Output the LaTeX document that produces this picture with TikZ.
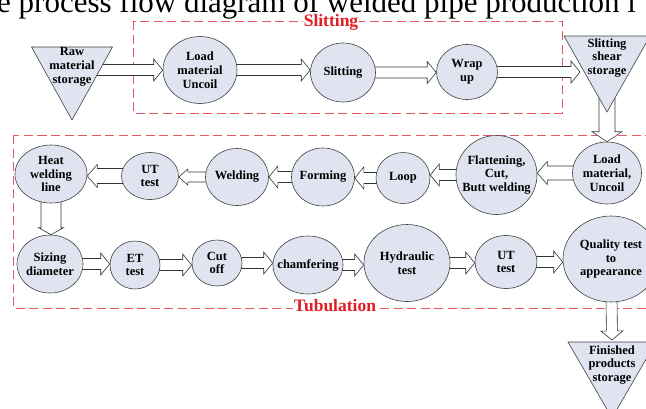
\documentclass[tikz,border=0pt]{standalone}
\usepackage{fontspec}
\setmainfont{Liberation Serif}
\usetikzlibrary{calc,shapes.geometric}
\pgfdeclarelayer{bg}
\pgfdeclarelayer{mid}
\pgfsetlayers{bg,mid,main}
\definecolor{procfill}{RGB}{223,228,240}
\definecolor{boxred}{RGB}{232,88,98}
\definecolor{labred}{RGB}{228,28,36}
\tikzset{
  proc/.style 2 args={ellipse, draw=black!75, fill=procfill, line width=0.6pt,
    inner sep=-20pt, minimum width=#1, minimum height=#2, align=center,
    font=\bfseries\fontsize{12.5}{13.8}\selectfont},
  storetext/.style={align=center, inner sep=0pt,
    font=\bfseries\fontsize{12.5}{13.8}\selectfont},
  storage/.style={draw=black!75, fill=procfill, line width=0.6pt},
  region/.style={draw=boxred, line width=0.9pt, dash pattern=on 9pt off 4.5pt},
  regionlabel/.style={text=labred, fill=white, inner sep=0.5pt,
    font=\bfseries\fontsize{17.5}{17.5}\selectfont},
  shaft half/.store in=\shafthalf, shaft half=5.5pt,
  head half/.store in=\headhalf, head half=11pt,
  head len/.store in=\headlen, head len=9pt,
  fat/.style={draw=black!80, fill=white, line width=0.6pt, to path={
    ($(\tikztostart)!\shafthalf!90:(\tikztotarget)$)
    -- ($(\tikztotarget)!\headlen!(\tikztostart)!\shafthalf!-90:(\tikztostart)$)
    -- ($(\tikztotarget)!\headlen!(\tikztostart)!\headhalf!-90:(\tikztostart)$)
    -- (\tikztotarget)
    -- ($(\tikztotarget)!\headlen!(\tikztostart)!\headhalf!90:(\tikztostart)$)
    -- ($(\tikztotarget)!\headlen!(\tikztostart)!\shafthalf!90:(\tikztostart)$)
    -- ($(\tikztostart)!\shafthalf!-90:(\tikztotarget)$)}}
}
\begin{document}
\begin{tikzpicture}[x=1pt, y=-1pt]
  \useasboundingbox (0,0) rectangle (646,408);

  % storages
  \node[storetext] (raw) at (72,66.5) {Raw\\material\\storage};
  \node[storetext] (shear) at (607,58) {Slitting\\shear\\storage};
  \node[storetext] (fin) at (612,365) {Finished\\products\\storage};
  \coordinate (sheartip) at ($(shear)+(-27,0)$);
  \coordinate (fintop) at ($(fin)+(0,-25)$);

  % slitting line
  \node[proc={74pt}{67pt}] (load) at (200,70) {Load\\material\\Uncoil};
  \node[proc={65pt}{59pt}] (slit) at (343,72.5) {Slitting};
  \node[proc={61pt}{55pt}] (wrap) at (467,72) {Wrap\\up};

  % tubulation, upper row
  \node[proc={69pt}{62pt}] (loadU) at (607,173) {Load\\material,\\Uncoil};
  \node[proc={81pt}{79pt}] (flat) at (496.5,175) {Flattening,\\Cut,\\Butt welding};
  \node[proc={54pt}{51pt}] (loop) at (403,178) {Loop};
  \node[proc={63pt}{58pt}] (forming) at (323,177) {Forming};
  \node[proc={63pt}{57pt}] (welding) at (237,177) {Welding};
  \node[proc={57pt}{47pt}] (ut1) at (150,176) {UT\\test};
  \node[proc={72pt}{58pt}] (heat) at (51,174) {Heat\\welding\\line};

  % tubulation, lower row
  \node[proc={66pt}{58pt}] (sizing) at (50,264) {Sizing\\diameter};
  \node[proc={50pt}{48pt}] (et) at (135,265) {ET\\test};
  \node[proc={50pt}{46pt}] (cut) at (217,263) {Cut\\off};
  \node[proc={70pt}{58pt}] (chamf) at (308,265) {chamfering};
  \node[proc={86pt}{77pt}] (hydr) at (407,263) {Hydraulic\\test};
  \node[proc={62pt}{53pt}] (ut2) at (506,262) {UT\\test};
  \node[proc={96pt}{86pt}] (quality) at (611,259) {Quality test\\to\\appearance};

  \node[regionlabel] (slitlab) at (331,22) {Slitting};
  \node[regionlabel] (tubelab) at (335,306) {Tubulation};

  \begin{pgfonlayer}{mid}
    \foreach \n/\w/\t/\b in {raw/40.5/19.5/53.5, shear/43/22/54, fin/44/23/53}
      \draw[storage] ($(\n)+(-\w,-\t)$) -- ($(\n)+(\w,-\t)$) -- ($(\n)+(0,\b)$) -- cycle;
  \end{pgfonlayer}

  \begin{pgfonlayer}{bg}
    \draw[region] (133,21) rectangle (562,113);
    \draw[region] (13,135) rectangle (660,308);

    \draw[fat] (raw |- load) to (load.west);
    \draw[fat] (load) to (load -| slit.west);
    \draw[fat] (slit) to (slit -| wrap.west);
    \draw[fat] (wrap) to (wrap -| sheartip);
    \draw[fat, shaft half=8pt, head half=15pt, head len=10pt] (shear) to (shear |- loadU.north);
    \draw[fat, shaft half=7pt, head half=11.5pt, head len=10pt] (loadU) to (loadU -| flat.east);
    \draw[fat] (flat) to (flat -| loop.east);
    \draw[fat] (loop) to (loop -| forming.east);
    \draw[fat] (forming) to (forming -| welding.east);
    \draw[fat, shaft half=5pt, head half=8pt] (welding) to (welding -| ut1.east);
    \draw[fat, shaft half=7.5pt, head half=11.5pt, head len=10pt] (ut1) to (ut1 -| heat.east);
    \draw[fat, shaft half=10pt, head half=12.5pt, head len=7pt] (heat) to (heat |- sizing.north);
    \draw[fat] (sizing) to (sizing -| et.west);
    \draw[fat] (et) to (et -| cut.west);
    \draw[fat] (cut) to (cut -| chamf.west);
    \draw[fat] (chamf) to (chamf -| hydr.west);
    \draw[fat] (hydr) to (hydr -| ut2.west);
    \draw[fat] (ut2) to (ut2 -| quality.west);
    \draw[fat] (quality) to (fintop);
  \end{pgfonlayer}

  \node[anchor=base west, inner sep=0pt, font=\fontsize{31}{31}\selectfont] (title)
    at (-3,12) {e process flow diagram of welded pipe production l};
\end{tikzpicture}
\end{document}
